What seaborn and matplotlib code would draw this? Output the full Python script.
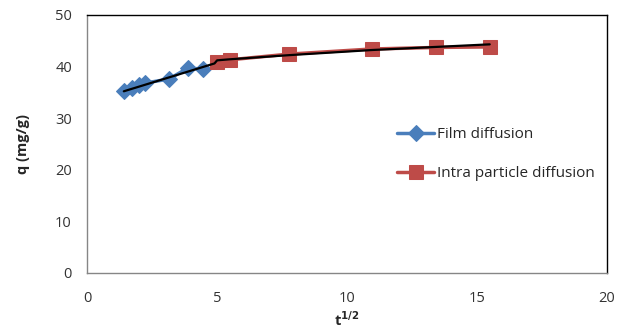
import numpy as np
import pandas as pd
import matplotlib
matplotlib.use("Agg")
import matplotlib.pyplot as plt
import seaborn as sns

# film diffusion (sqrt t, q)
film_x = [1.41, 1.73, 2.0, 2.24, 3.16, 3.87, 4.47]
film_q = [35.3, 35.9, 36.5, 36.8, 37.6, 39.7, 39.5]

# intra particle diffusion
intra_x = [5.0, 5.48, 7.75, 10.95, 13.42, 15.49]
intra_q = [40.9, 41.3, 42.4, 43.4, 43.7, 43.8]

# black fitted line
fit_x = [1.41, 4.9, 5.0, 5.48, 7.75, 10.95, 13.42, 15.49]
fit_q = [35.2, 40.6, 41.2, 41.4, 42.2, 43.2, 43.8, 44.3]

sns.set_style("white")
plt.rcParams['font.family'] = ['Open Sans', 'DejaVu Sans']

blue = '#4A7EBB'
red = '#BE4B48'

fig = plt.figure(figsize=(6.27, 3.32), dpi=100)
ax = fig.add_axes([0.139, 0.178, 0.829, 0.777])

df1 = pd.DataFrame({'x': film_x, 'q': film_q})
df2 = pd.DataFrame({'x': intra_x, 'q': intra_q})
df3 = pd.DataFrame({'x': fit_x, 'q': fit_q})

sns.lineplot(data=df1, x='x', y='q', ax=ax, color=blue, lw=2.5, marker='D',
             markersize=8, markeredgecolor=blue, label='Film diffusion', sort=False)
sns.lineplot(data=df2, x='x', y='q', ax=ax, color=red, lw=2.5, marker='s',
             markersize=10, markeredgecolor=red, label='Intra particle diffusion', sort=False)
sns.lineplot(data=df3, x='x', y='q', ax=ax, color='black', lw=1.6, sort=False,
             legend=False)

ax.set_xlim(0, 20)
ax.set_ylim(0, 50)
ax.set_xticks([0, 5, 10, 15, 20])
ax.set_yticks([0, 10, 20, 30, 40, 50])
ax.tick_params(axis='both', direction='out', length=4, width=1,
               labelsize=10.5, colors='#868686', labelcolor='#333333')
ax.tick_params(axis='x', pad=9)
ax.tick_params(axis='y', pad=7)

for s in ['left', 'bottom']:
    ax.spines[s].set_color('#868686')
    ax.spines[s].set_linewidth(1)
for s in ['top', 'right']:
    ax.spines[s].set_color('black')
    ax.spines[s].set_linewidth(1)

ax.set_xlabel(r't$^{\mathbf{1/2}}$', fontsize=10.5, fontweight='bold', labelpad=3)
ax.set_ylabel('q (mg/g)', fontsize=10.5, fontweight='bold', labelpad=18)

leg = ax.legend(loc='upper left', bbox_to_anchor=(0.57, 0.618), frameon=False,
                fontsize=11, labelspacing=1.55, handlelength=2.4, handletextpad=0.2)

fig.savefig('out.png', dpi=100)
